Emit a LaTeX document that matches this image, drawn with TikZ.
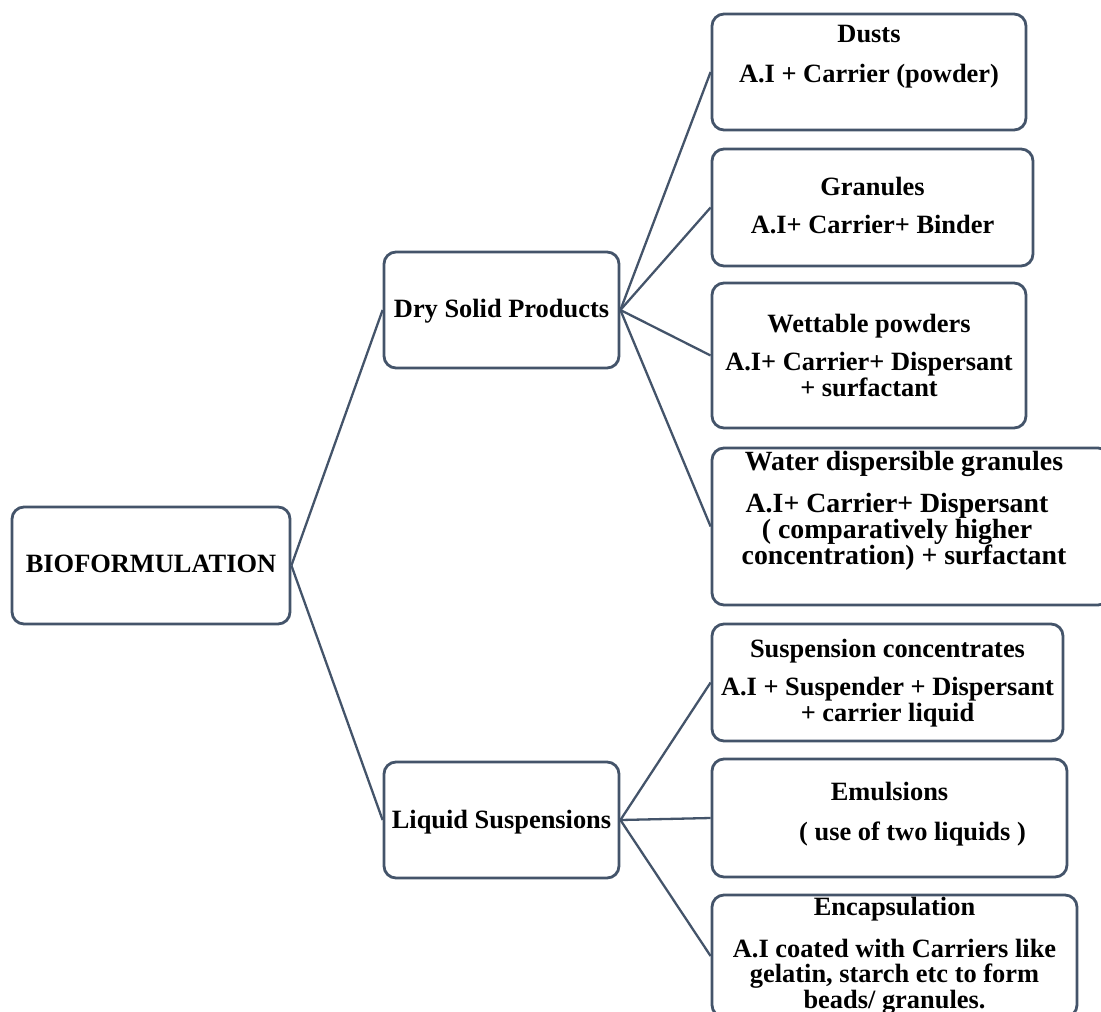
\documentclass[tikz,border=0pt]{standalone}
\usepackage{fontspec}
\setmainfont{Liberation Serif}
\definecolor{edge}{HTML}{44546A}
% fixed-height strut so the first baseline sits a known distance below a node's north
\newcommand\firstline{\rule{0pt}{10pt}}

\begin{document}
\begin{tikzpicture}[x=0.5pt,y=-0.5pt,
  box/.style={draw=edge,line width=1.4pt,rounded corners=6pt,fill=white,inner sep=0pt},
  lbl/.style={font=\bfseries\fontsize{13.2pt}{13.25pt}\selectfont,align=center,inner sep=0pt},
  tight/.style={font=\bfseries\fontsize{13.2pt}{12.75pt}\selectfont},
  big/.style={font=\bfseries\fontsize{13.9pt}{12.9pt}\selectfont},
  link/.style={draw=edge,line width=1.15pt}]

\useasboundingbox (0,0) rectangle (1101,1011);
\clip (0,0) rectangle (1101,1011);

% boxes
\node[box,minimum width=139pt,minimum height=58.5pt] (bio) at (151,565.5) {};
\node[box,minimum width=117.5pt,minimum height=58pt] (dry) at (501.5,310) {};
\node[box,minimum width=117.5pt,minimum height=58pt] (liq) at (501.5,820) {};
\node[box,minimum width=157pt,minimum height=58pt] (dusts) at (869,72) {};
\node[box,minimum width=160.5pt,minimum height=58.5pt] (gran) at (872.5,207.5) {};
\node[box,minimum width=157pt,minimum height=72.5pt] (wett) at (869,355.5) {};
\node[box,minimum width=199pt,minimum height=78.5pt] (wdg) at (911,526.5) {};
\node[box,minimum width=175.5pt,minimum height=58.5pt] (susp) at (887.5,682.5) {};
\node[box,minimum width=177.5pt,minimum height=59pt] (emul) at (889.5,818) {};
\node[box,minimum width=182.5pt,minimum height=61pt] (enc) at (894.5,956) {};

% connectors
\draw[link] (bio.east) -- (dry.west);
\draw[link] (bio.east) -- (liq.west);
\draw[link] (dry.east) -- (dusts.west);
\draw[link] (dry.east) -- (gran.west);
\draw[link] (dry.east) -- (wett.west);
\draw[link] (dry.east) -- (wdg.west);
\draw[link] (liq.east) -- (susp.west);
\draw[link] (liq.east) -- (emul.west);
\draw[link] (liq.east) -- (enc.west);

% texts
\node[lbl,anchor=base] (bioT) at (151,572) {BIOFORMULATION};
\node[lbl,anchor=base] (dryT) at (501.5,317) {Dry Solid Products};
\node[lbl,anchor=base] (liqT) at (501.5,828) {Liquid Suspensions};

\node[lbl,anchor=north] (dustsT) at (869,22)
  {\firstline Dusts\\[6.75pt] A.I + Carrier (powder)};
\node[lbl,anchor=north] (granT) at (872.5,175)
  {\firstline Granules\\[5.75pt] A.I+ Carrier+ Binder};
\node[lbl,anchor=north] (wettT) at (869,312)
  {\firstline Wettable powders\\[5.75pt] A.I+ Carrier+ Dispersant\\ + surfactant};
\node[lbl,big,anchor=north] (wdgT) at (904,450)
  {\firstline Water dispersible granules\\[8.1pt]
   A.I+ Carrier+ Dispersant\rule{7pt}{0pt}\\
   ( comparatively higher\rule{7pt}{0pt}\\
   concentration) + surfactant};
\node[lbl,anchor=north] (suspT) at (887.5,637)
  {\firstline Suspension concentrates\\[5.75pt] A.I + Suspender + Dispersant\\ + carrier liquid};
\node[lbl,anchor=north] (emulT) at (889.5,780)
  {\firstline Emulsions\\[6.75pt]\rule{23pt}{0pt}( use of two liquids )};
\node[lbl,tight,anchor=north] (encT) at (894.5,895)
  {\firstline Encapsulation\\[8.25pt] A.I coated with Carriers like\\ gelatin, starch etc to form\\ beads/ granules.};
\end{tikzpicture}
\end{document}
